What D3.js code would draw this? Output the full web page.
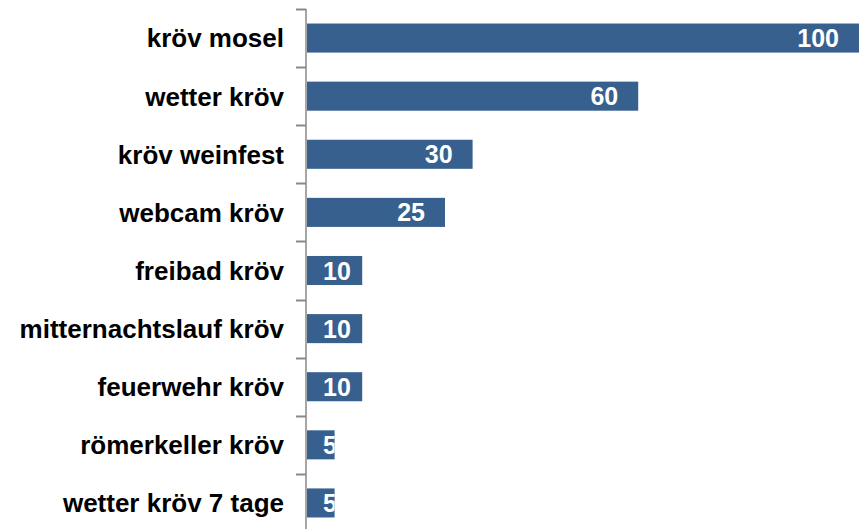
<!DOCTYPE html>
<meta charset="utf-8">
<script src="https://cdn.jsdelivr.net/npm/d3@7"></script>
<style>
body {margin: 0; background: #fff;}
.cat {text-anchor: end; font-family: "Liberation Sans", Arial, sans-serif; font-weight: bold; font-size: 26px; fill: #000;}
.val {text-anchor: end; font-family: "Liberation Sans", Arial, sans-serif; font-weight: bold; font-size: 25px; fill: #fff;}
</style>
<div id="vis"></div>
<script>
// data
var categories = ["kröv mosel", "wetter kröv", "kröv weinfest", "webcam kröv", "freibad kröv",
                  "mitternachtslauf kröv", "feuerwehr kröv", "römerkeller kröv", "wetter kröv 7 tage"];
var values = [100, 60, 30, 25, 10, 10, 10, 5, 5];

var w = 861, h = 529;
var axisX = 306;

var svg = d3.select("#vis").append("svg")
    .attr("width", w)
    .attr("height", h);

var x = d3.scaleLinear().domain([0, 100]).range([axisX + 1, 859]);
var y = d3.scaleBand().domain(categories).range([9, 532])
    .paddingInner(0.5).paddingOuter(0.25);

var data = categories.map(function(c, i) { return {cat: c, val: values[i]}; });

// bars
svg.selectAll(".bar")
  .data(data)
  .enter().append("rect")
    .attr("class", "bar")
    .attr("x", x(0))
    .attr("y", function(d) { return y(d.cat); })
    .attr("width", function(d) { return x(d.val) - x(0); })
    .attr("height", y.bandwidth())
    .attr("fill", "#37608f");

// axis line + ticks between categories
svg.append("line")
    .attr("x1", axisX).attr("x2", axisX)
    .attr("y1", 9).attr("y2", h)
    .attr("stroke", "#888").attr("stroke-width", 1.5);

svg.selectAll(".tick")
  .data(categories)
  .enter().append("line")
    .attr("x1", axisX - 10).attr("x2", axisX)
    .attr("y1", function(d) { return Math.round(y(d) - y.step() * 0.25) + 0.5; })
    .attr("y2", function(d) { return Math.round(y(d) - y.step() * 0.25) + 0.5; })
    .attr("stroke", "#888").attr("stroke-width", 2);

// category labels
svg.selectAll(".cat")
  .data(data)
  .enter().append("text")
    .attr("class", "cat")
    .attr("x", 284)
    .attr("y", function(d) { return y(d.cat) + y.bandwidth() / 2; })
    .attr("dy", "0.36em")
    .text(function(d) { return d.cat; });

// value labels, clipped to the bar
svg.append("defs").selectAll("clipPath")
  .data(data)
  .enter().append("clipPath")
    .attr("id", function(d, i) { return "clip" + i; })
  .append("rect")
    .attr("x", x(0))
    .attr("y", function(d) { return y(d.cat); })
    .attr("width", function(d) { return x(d.val) - x(0); })
    .attr("height", y.bandwidth());

svg.selectAll(".val")
  .data(data)
  .enter().append("text")
    .attr("class", "val")
    .attr("clip-path", function(d, i) { return "url(#clip" + i + ")"; })
    .attr("y", function(d) { return y(d.cat) + y.bandwidth() / 2; })
    .attr("dy", "0.36em")
    .text(function(d) { return d.val; })
    .attr("x", function(d) {
      var tw = this.getComputedTextLength();
      return Math.min(Math.max(x(d.val) - 20, x(0) + 16 + tw), 843);
    });
</script>
